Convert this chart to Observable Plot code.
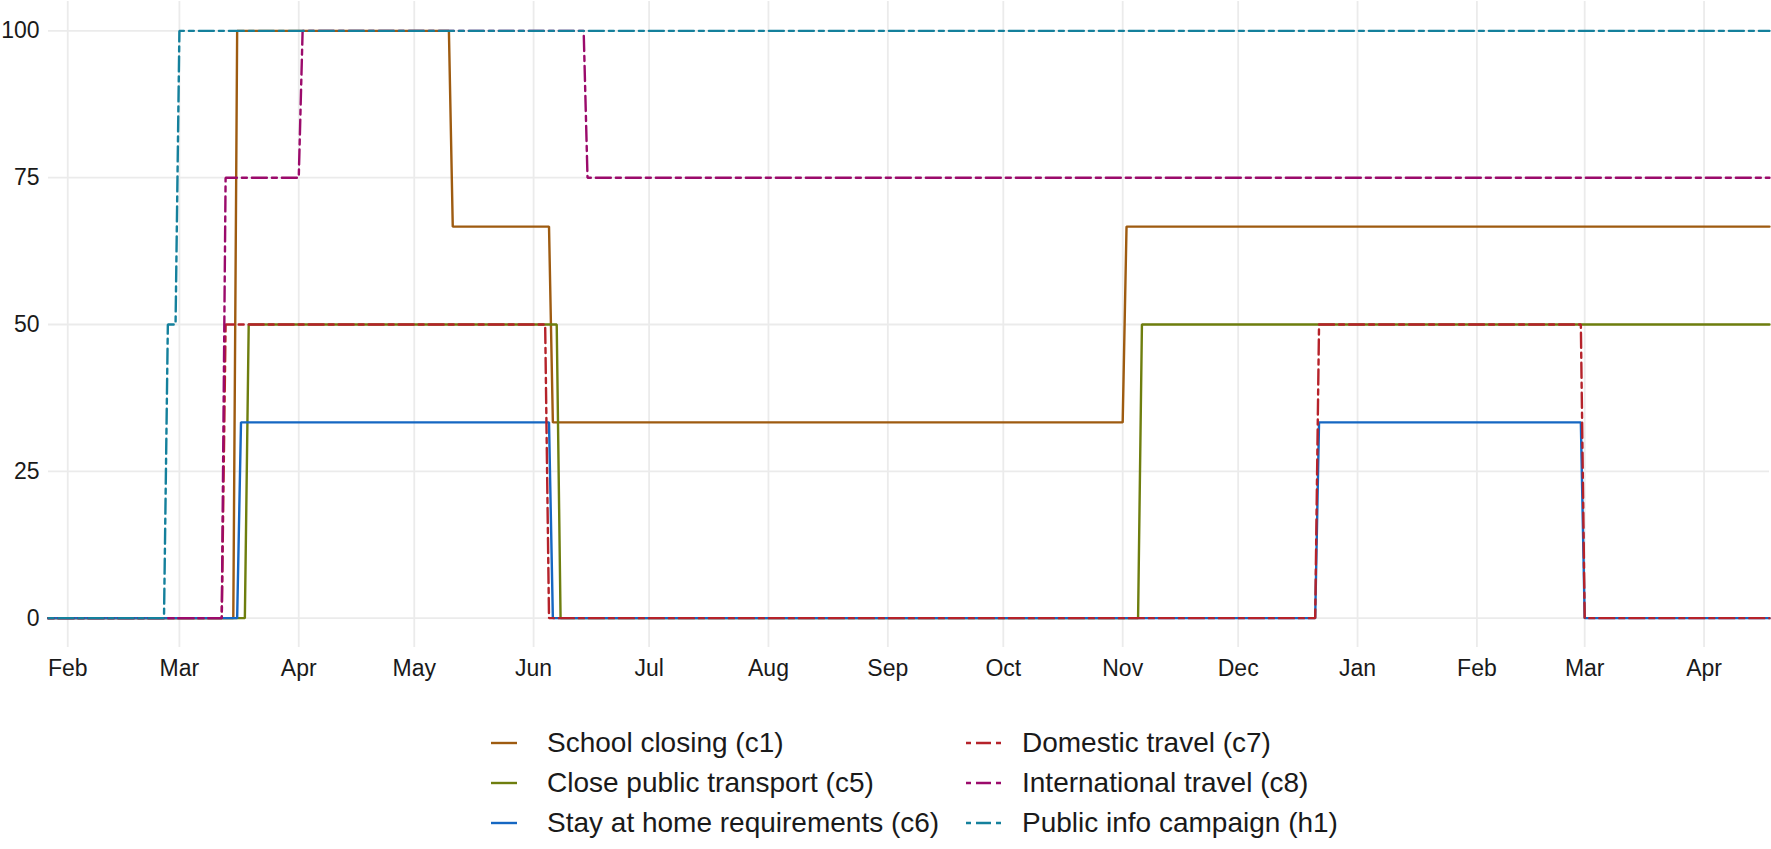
<!DOCTYPE html>
<html>
<head>
<meta charset="utf-8">
<script src="https://cdn.jsdelivr.net/npm/d3@7"></script>
<script src="https://cdn.jsdelivr.net/npm/@observablehq/plot@0.6"></script>
<style>
  body { margin: 0; background: #fff; font-family: "Liberation Sans", Arial, sans-serif; }
  #wrap { position: relative; width: 1771px; height: 849px; overflow: hidden; }
  #legend { position: absolute; left: 0; top: 0; width: 1771px; height: 849px; pointer-events: none; }
  .item { position: absolute; display: flex; align-items: center; height: 34px; font-size: 28px; color: #1a1a1a; white-space: nowrap; }
</style>
</head>
<body>
<div id="wrap"><div id="plot"></div><div id="legend"></div></div>
<script>
// ---- data (change points: date the value takes effect, and value) ----
const startDate = "2020-01-27";
const endDate = "2021-04-18";

const seriesNames = [
  "School closing (c1)",
  "Close public transport (c5)",
  "Stay at home requirements (c6)",
  "Domestic travel (c7)",
  "International travel (c8)",
  "Public info campaign (h1)"
];
const seriesColors = ["#9E5B10", "#6E7E0E", "#1567C2", "#B5222A", "#9B0A6B", "#14809C"];
const seriesDashed = [false, false, false, true, true, true];

const c1Dates  = ["2020-01-27", "2020-03-16", "2020-05-11", "2020-06-06", "2020-11-02"];
const c1Values = [0, 100, 66.67, 33.33, 66.67];

const c5Dates  = ["2020-01-27", "2020-03-19", "2020-06-08", "2020-11-06"];
const c5Values = [0, 50, 0, 50];

const c6Dates  = ["2020-01-27", "2020-03-17", "2020-06-06", "2020-12-22", "2021-03-01"];
const c6Values = [0, 33.33, 0, 33.33, 0];

const c7Dates  = ["2020-01-27", "2020-03-13", "2020-06-05", "2020-12-22", "2021-03-01"];
const c7Values = [0, 50, 0, 50, 0];

const c8Dates  = ["2020-01-27", "2020-03-13", "2020-04-02", "2020-06-15"];
const c8Values = [0, 75, 100, 75];

const h1Dates  = ["2020-01-27", "2020-02-27", "2020-03-01"];
const h1Values = [0, 50, 100];

const yTicks = [0, 25, 50, 75, 100];

// ---- build daily-line tables (value changes over one day, like a daily geom_line) ----
const DAY = 864e5;
function buildTable(dates, values) {
  const rows = [];
  dates.forEach((d, i) => {
    const t = new Date(d + "T00:00:00Z");
    if (i > 0) rows.push({date: new Date(+t - DAY), value: values[i - 1]});
    rows.push({date: t, value: values[i]});
  });
  rows.push({date: new Date(endDate + "T00:00:00Z"), value: values[values.length - 1]});
  return rows;
}
const tables = [
  buildTable(c1Dates, c1Values),
  buildTable(c5Dates, c5Values),
  buildTable(c6Dates, c6Values),
  buildTable(c7Dates, c7Values),
  buildTable(c8Dates, c8Values),
  buildTable(h1Dates, h1Values)
];

const lw = 2.4;
const dash = "5,5,15,5";

const lineMarks = tables.map((t, i) => Plot.line(t, {
  x: "date", y: "value",
  stroke: seriesColors[i],
  strokeWidth: lw,
  strokeDasharray: seriesDashed[i] ? dash : null,
  strokeLinejoin: "miter",
  curve: "linear"
}));

const chart = Plot.plot({
  width: 1771,
  height: 700,
  marginTop: 1,
  marginBottom: 53,
  marginLeft: 48,
  marginRight: 2,
  style: { fontFamily: "'Liberation Sans', Arial, sans-serif", fontSize: "23px", color: "#1a1a1a", background: "#fff" },
  x: { type: "utc", domain: [new Date(startDate + "T00:00:00Z"), new Date(endDate + "T00:00:00Z")] },
  y: { domain: [-5, 105] },
  marks: [
    Plot.gridX({ticks: d3.utcMonth.every(1), stroke: "#EBEBEB", strokeOpacity: 1, strokeWidth: 1.8}),
    Plot.gridY({ticks: yTicks, stroke: "#EBEBEB", strokeOpacity: 1, strokeWidth: 1.8}),
    ...lineMarks,
    Plot.axisX({ticks: d3.utcMonth.every(1), tickFormat: d3.utcFormat("%b"), tickSize: 0, tickPadding: 12, label: null}),
    Plot.axisY({ticks: yTicks, tickSize: 0, tickPadding: 9, label: null})
  ]
});
document.getElementById("plot").appendChild(chart);

// ---- legend ----
const legend = document.getElementById("legend");
const legendPos = [
  {x: 491, y: 743}, {x: 491, y: 783}, {x: 491, y: 823},
  {x: 966, y: 743}, {x: 966, y: 783}, {x: 966, y: 823}
];
seriesNames.forEach((name, i) => {
  const p = legendPos[i];
  const dashed = seriesDashed[i];
  const sw = dashed ? 38 : 26;
  const textX = dashed ? 1022 : 547;
  const item = document.createElement("div");
  item.className = "item";
  item.style.left = p.x + "px";
  item.style.top = (p.y - 17) + "px";
  const ns = "http://www.w3.org/2000/svg";
  const svg = document.createElementNS(ns, "svg");
  svg.setAttribute("width", textX - p.x);
  svg.setAttribute("height", 34);
  const ln = document.createElementNS(ns, "line");
  ln.setAttribute("x1", 0); ln.setAttribute("x2", sw);
  ln.setAttribute("y1", 17); ln.setAttribute("y2", 17);
  ln.setAttribute("stroke", seriesColors[i]);
  ln.setAttribute("stroke-width", lw);
  if (dashed) ln.setAttribute("stroke-dasharray", dash);
  svg.appendChild(ln);
  item.appendChild(svg);
  const span = document.createElement("span");
  span.textContent = name;
  item.appendChild(span);
  legend.appendChild(item);
});
</script>
</body>
</html>
